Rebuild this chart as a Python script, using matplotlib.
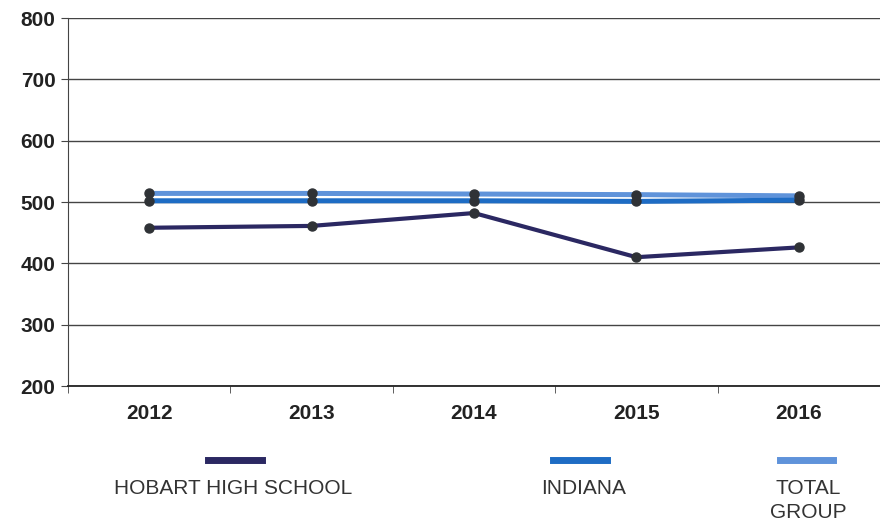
import matplotlib
matplotlib.use("Agg")
import matplotlib.pyplot as plt
from matplotlib.lines import Line2D

years = ["2012", "2013", "2014", "2015", "2016"]
hobart = [458, 461, 482, 410, 426]
indiana = [502, 502, 502, 501, 503]
total_group = [514, 514, 513, 512, 510]
series_names = ["HOBART HIGH SCHOOL", "INDIANA", "TOTAL\nGROUP"]
y_ticks = [200, 300, 400, 500, 600, 700, 800]

plt.rcParams["font.family"] = ["Liberation Sans", "DejaVu Sans"]

colors = ["#2b2862", "#1e6cc4", "#5f93da"]

fig = plt.figure(figsize=(8.8, 5.22), dpi=100)
ax = fig.add_axes([68/880, 1-386/522, 1-68/880, (386-18)/522])

x = list(range(len(years)))
for vals, c, lw in [(total_group, colors[2], 3.6), (indiana, colors[1], 3.6), (hobart, colors[0], 3.0)]:
    ax.plot(x, vals, color=c, lw=lw, zorder=3, solid_capstyle="butt")
    ax.plot(x, vals, ls="none", marker="o", ms=6.5, color="#2f3236", zorder=4)

ax.set_ylim(200, 800)
ax.set_yticks(y_ticks)
ax.set_xlim(-0.5, 4.385)
ax.set_xticks(x)
ax.set_xticklabels(years)
ax.set_xticks([i + 0.5 for i in range(-1, 5)], minor=True)
ax.grid(axis="y", color="#444444", lw=1.0, zorder=1)
for s in ["top", "right"]:
    ax.spines[s].set_visible(False)
ax.spines["left"].set_color("#444444")
ax.spines["bottom"].set_color("#222222")
ax.spines["bottom"].set_linewidth(1.3)
ax.tick_params(axis="y", direction="out", length=5, color="#444444", labelsize=15, pad=4)
ax.tick_params(axis="x", which="major", length=0, labelsize=15, pad=13)
ax.tick_params(axis="x", which="minor", direction="out", length=5, color="#444444")
for lbl in ax.get_xticklabels() + ax.get_yticklabels():
    lbl.set_fontweight("bold")
    lbl.set_color("#222222")

legend_pos = [(233, 208, 262), (584, 553, 607), (808, 780, 833)]
for name, c, (cx, x0, x1) in zip(series_names, colors, legend_pos):
    fig.add_artist(Line2D([x0/880, x1/880], [1-460/522]*2, color=c, lw=5, transform=fig.transFigure))
    fig.text(cx/880, 1-479/522, name, ha="center", va="top", fontsize=15, color="#333333", linespacing=1.35)

fig.savefig("out.png", dpi=100, facecolor="white")
